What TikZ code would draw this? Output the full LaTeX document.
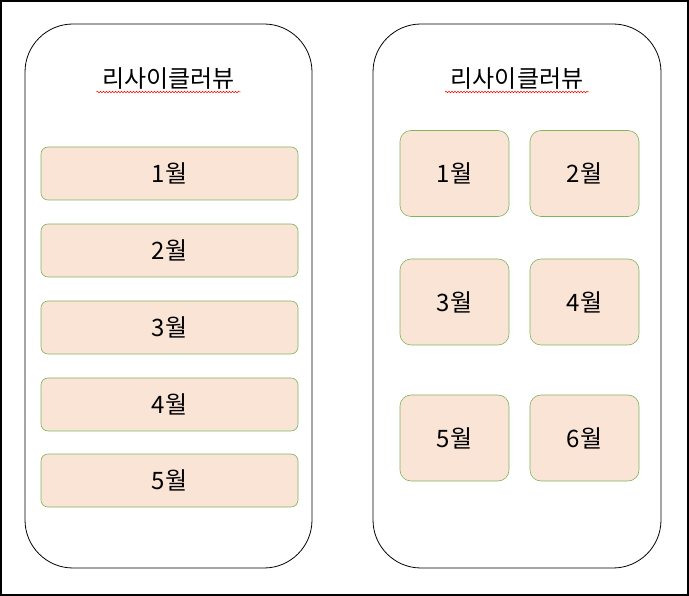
\documentclass[tikz,border=0pt]{standalone}
\usepackage{fontspec}
\setmainfont{Noto Sans CJK KR}
\usetikzlibrary{decorations.pathmorphing}
\begin{document}
\begin{tikzpicture}[x=1pt,y=-1pt,
  phone/.style={draw=black,rounded corners=48pt,line width=0.8pt},
  item/.style={rounded corners=7pt,line width=0.6pt},
  lbl/.style={font=\fontsize{24pt}{28pt}\selectfont},
  squig/.style={draw=red,line width=0.5pt,decorate,decoration={snake,amplitude=0.8pt,segment length=3pt}}]
\definecolor{pfill}{HTML}{FAE4D6}\definecolor{pline}{HTML}{7CB55A}
\tikzset{item/.append style={draw=pline,fill=pfill}}
\draw[line width=2pt] (1,1) rectangle (688,595);
\useasboundingbox (0,0) rectangle (689,596);
\node[phone,minimum width=287pt,minimum height=544pt] (L) at (168.5,296) {};
\node[phone,minimum width=288pt,minimum height=544pt] (R) at (517,296) {};
\node[lbl] (tl) at (168.5,79) {리사이클러뷰};
\node[lbl] (tr) at (517,79) {리사이클러뷰};
\draw[squig] ([xshift=-72pt]tl.center) ++(0,13) -- ++(144,0);
\draw[squig] ([xshift=-72pt]tr.center) ++(0,13) -- ++(144,0);
\foreach \y/\t [count=\i] in {173.5/1월,250.5/2월,327.5/3월,404.5/4월,480.5/5월}
  \node[item,minimum width=257pt,minimum height=53pt,lbl] (l\i) at (169.5,\y) {\t};
\foreach \x/\y/\t [count=\i] in {454.5/173.5/1월,584.5/173.5/2월,454.5/302/3월,584.5/302/4월,454.5/438/5월,584.5/438/6월}
  \node[item,minimum width=109pt,minimum height=86pt,lbl,rounded corners=11pt] (r\i) at (\x,\y) {\t};
\end{tikzpicture}
\end{document}
